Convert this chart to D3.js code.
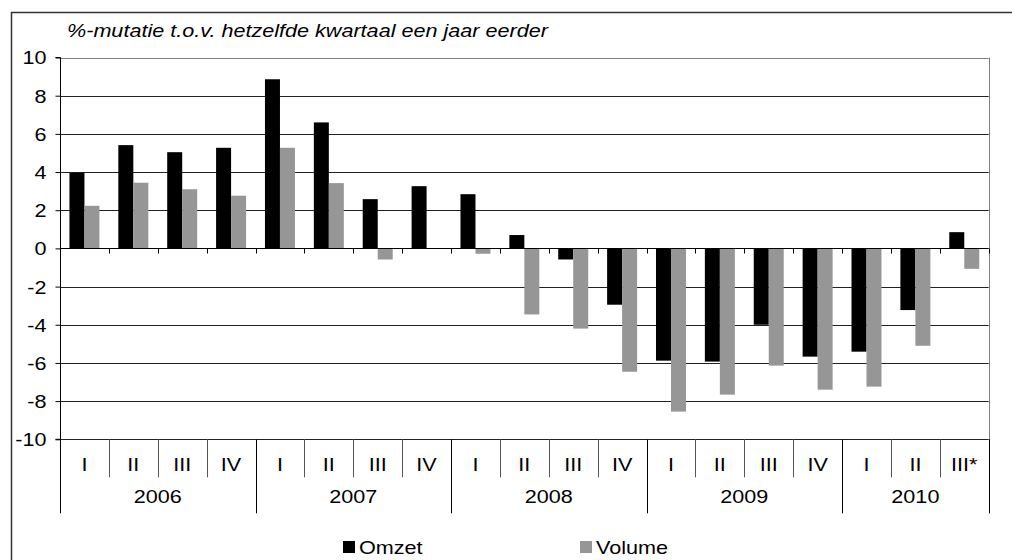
<!DOCTYPE html>
<html>
<head>
<meta charset="utf-8">
<script src="https://cdn.jsdelivr.net/npm/d3@7"></script>
<style>
  body { margin: 0; background: #fff; }
  svg text { font-family: "Liberation Sans", Arial, sans-serif; fill: #000; }
</style>
</head>
<body>
<div id="chart"></div>
<script>
// kwartalen en jaren
var quarters = ["I","II","III","IV","I","II","III","IV","I","II","III","IV","I","II","III","IV","I","II","III*"];
var years = ["2006","2007","2008","2009","2010"];
var yearSpan = [4, 4, 4, 4, 3];
var series = ["Omzet", "Volume"];

// %-mutatie t.o.v. hetzelfde kwartaal een jaar eerder
var omzet  = [3.96, 5.41, 5.04, 5.27, 8.86, 6.6, 2.58, 3.26, 2.84, 0.7, -0.58, -2.95, -5.88, -5.93, -4.0, -5.67, -5.41, -3.23, 0.85];
var volume = [2.23, 3.44, 3.1, 2.76, 5.27, 3.42, -0.58, 0, -0.28, -3.46, -4.2, -6.46, -8.55, -7.66, -6.14, -7.4, -7.24, -5.1, -1.07];

var yTicks = [10, 8, 6, 4, 2, 0, -2, -4, -6, -8, -10];
var colors = { Omzet: "#000000", Volume: "#969696" };

var width = 1012, height = 560;
var plot = { left: 60, right: 988.7, top: 57.5, bottom: 439.3 };
var fontSize = "18px", stretch = 1.2;

var svg = d3.select("#chart").append("svg")
  .attr("width", width)
  .attr("height", height);

// buitenkader
svg.append("path")
  .attr("d", "M11.5," + height + "V12.5H" + width)
  .attr("fill", "none")
  .attr("stroke", "#333")
  .attr("stroke-width", 1.5);

var y = d3.scaleLinear().domain([-10, 10]).range([plot.bottom, plot.top]);
var x0 = d3.scaleBand().domain(d3.range(quarters.length)).range([plot.left, plot.right]).padding(0);
var x1 = d3.scaleBand().domain(series).range([0, x0.bandwidth()]).paddingInner(0).paddingOuter(0.63);

// rasterlijnen
svg.append("g")
  .selectAll("line")
  .data(yTicks.filter(function(d) { return d !== 0; }))
  .enter().append("line")
  .attr("x1", plot.left).attr("x2", plot.right)
  .attr("y1", function(d) { return Math.round(y(d)) + 0.5; })
  .attr("y2", function(d) { return Math.round(y(d)) + 0.5; })
  .attr("stroke", function(d) { return d === 10 ? "#808080" : "#222"; });

// rechterrand
svg.append("line")
  .attr("x1", Math.round(plot.right) + 0.5).attr("x2", Math.round(plot.right) + 0.5)
  .attr("y1", y(10)).attr("y2", plot.bottom + 74)
  .attr("stroke", "#808080");

// staven
var rows = quarters.map(function(q, i) { return { i: i, Omzet: omzet[i], Volume: volume[i] }; });
var groups = svg.append("g").selectAll("g")
  .data(rows)
  .enter().append("g")
  .attr("transform", function(d) { return "translate(" + x0(d.i) + ",0)"; });

groups.selectAll("rect")
  .data(function(d) { return series.map(function(s) { return { key: s, value: d[s] }; }); })
  .enter().append("rect")
  .attr("x", function(d) { return x1(d.key); })
  .attr("width", x1.bandwidth())
  .attr("y", function(d) { return y(Math.max(0, d.value)); })
  .attr("height", function(d) { return Math.abs(y(d.value) - y(0)); })
  .attr("fill", function(d) { return colors[d.key]; });

// nullijn met streepjes
var y0 = Math.round(y(0)) + 0.5;
svg.append("line")
  .attr("x1", plot.left).attr("x2", plot.right)
  .attr("y1", y0).attr("y2", y0)
  .attr("stroke", "#000");
svg.append("g").selectAll("line")
  .data(d3.range(quarters.length + 1))
  .enter().append("line")
  .attr("x1", function(d) { return Math.round(plot.left + d * x0.step()) + 0.5; })
  .attr("x2", function(d) { return Math.round(plot.left + d * x0.step()) + 0.5; })
  .attr("y1", y0).attr("y2", y0 + 5)
  .attr("stroke", "#000");

// y-as
var yAxis = d3.axisLeft(y).tickValues(yTicks).tickSize(5).tickPadding(9)
  .tickFormat(function(d) { return d; });
var yg = svg.append("g")
  .attr("transform", "translate(" + (plot.left + 0.5) + ",0)")
  .call(yAxis);
yg.select(".domain").attr("stroke", "#000").attr("d", "M-5," + plot.top + "H0V" + plot.bottom + "H-5");
yg.selectAll(".tick line").attr("stroke", "#000");
yg.selectAll("text").attr("dy", "0.36em")
  .style("font-family", "'Liberation Sans', Arial, sans-serif");

// categorie-as: kwartalen
var catTop = plot.bottom;
svg.append("g").selectAll("line")
  .data(d3.range(quarters.length + 1))
  .enter().append("line")
  .attr("x1", function(d) { return Math.round(plot.left + d * x0.step()) + 0.5; })
  .attr("x2", function(d) { return Math.round(plot.left + d * x0.step()) + 0.5; })
  .attr("y1", catTop)
  .attr("y2", catTop + 38)
  .attr("stroke", "#555");

svg.append("g").selectAll("text")
  .data(quarters)
  .enter().append("text")
  .attr("x", function(d, i) { return x0(i) + x0.bandwidth() / 2; })
  .attr("y", catTop + 32)
  .attr("text-anchor", "middle")
  .text(function(d) { return d; });

// jaren
var starts = [0];
yearSpan.forEach(function(n, i) { starts.push(starts[i] + n); });
svg.append("g").selectAll("line")
  .data(starts)
  .enter().append("line")
  .attr("x1", function(d) { return Math.round(plot.left + d * x0.step()) + 0.5; })
  .attr("x2", function(d) { return Math.round(plot.left + d * x0.step()) + 0.5; })
  .attr("y1", catTop)
  .attr("y2", catTop + 74)
  .attr("stroke", "#000");

svg.append("g").selectAll("text")
  .data(years)
  .enter().append("text")
  .attr("x", function(d, i) { return plot.left + (starts[i] + yearSpan[i] / 2) * x0.step(); })
  .attr("y", catTop + 64)
  .attr("text-anchor", "middle")
  .text(function(d) { return d; });

// ondertitel
svg.append("text")
  .attr("x", 67)
  .attr("y", 37)
  .style("font-style", "italic")
  .text("%-mutatie t.o.v. hetzelfde kwartaal een jaar eerder");

// legenda
var legendX = [343, 580];
var legend = svg.append("g").selectAll("g")
  .data(series)
  .enter().append("g")
  .attr("transform", function(d, i) { return "translate(" + legendX[i] + ",541)"; });
legend.append("rect")
  .attr("width", 12).attr("height", 12)
  .attr("fill", function(d) { return colors[d]; });
legend.append("text")
  .attr("x", 16).attr("y", 13)
  .text(function(d) { return d; });

// tekst iets breder, zoals in het origineel
svg.selectAll("text").each(function() {
  var t = d3.select(this);
  var tx = +t.attr("x") || 0;
  t.style("font-size", fontSize)
    .attr("transform", "translate(" + tx + ",0) scale(" + stretch + ",1) translate(" + (-tx) + ",0)");
});
</script>
</body>
</html>
